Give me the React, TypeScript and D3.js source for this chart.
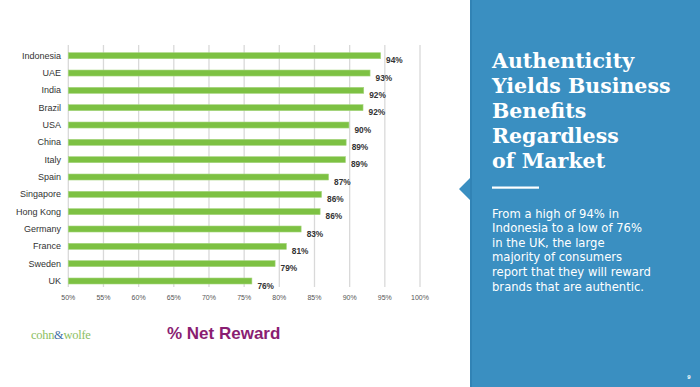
import React from "react";
import * as d3 from "d3";

const categories = ["Indonesia", "UAE", "India", "Brazil", "USA", "China", "Italy", "Spain", "Singapore", "Hong Kong", "Germany", "France", "Sweden", "UK"];
const values = [94.4, 92.9, 92.0, 91.9, 89.9, 89.5, 89.4, 87.0, 86.0, 85.8, 83.1, 81.0, 79.4, 76.1];
const valueLabels = ["94%", "93%", "92%", "92%", "90%", "89%", "89%", "87%", "86%", "86%", "83%", "81%", "79%", "76%"];
const ticks = [50, 55, 60, 65, 70, 75, 80, 85, 90, 95, 100];
const titleLines = ["Authenticity", "Yields Business", "Benefits", "Regardless", "of Market"];
const bodyLines = ["From a high of 94% in", "Indonesia to a low of 76%", "in the UK, the large", "majority of consumers", "report that they will reward", "brands that are authentic."];

export default function App() {
  const W = 700, H = 387;
  const x = d3.scaleLinear().domain([50, 100]).range([68.3, 420]);
  const y = d3.scalePoint<string>().domain(categories).range([55.7, 281]);
  const barH = 6;
  const sans = "'Liberation Sans', Arial, sans-serif";
  const panelX = 470;
  const notch = d3.path();
  notch.moveTo(panelX, 0);
  notch.lineTo(W, 0);
  notch.lineTo(W, H);
  notch.lineTo(panelX, H);
  notch.lineTo(panelX, 200);
  notch.lineTo(459, 189);
  notch.lineTo(panelX, 178);
  notch.closePath();

  return (
    <svg width={W} height={H} style={{ position: "absolute", left: 0, top: 0, background: "#fff" }}>
      <rect x={0} y={0} width={W} height={H} fill="#fff" />
      {ticks.map((t) => (
        <g key={t}>
          <line x1={x(t)} x2={x(t)} y1={45} y2={287} stroke="#d9d9d9" strokeWidth={1.3} />
          <text x={x(t)} y={299.5} fontFamily={sans} fontSize={7} fill="#555" textAnchor="middle">{t}%</text>
        </g>
      ))}
      {categories.map((c, i) => (
        <g key={c}>
          <text x={61} y={(y(c) as number) + 3} fontFamily={sans} fontSize={9} fill="#333" textAnchor="end">{c}</text>
          <rect x={x(50)} y={(y(c) as number) - barH / 2} width={x(values[i]) - x(50)} height={barH} fill="#7dc143" stroke="#a6d57e" strokeWidth={0.6} />
          <text x={x(values[i]) + 5.5} y={(y(c) as number) + 7.5} fontFamily={sans} fontSize={8.3} fontWeight="bold" fill="#333">{valueLabels[i]}</text>
        </g>
      ))}
      <text x={31} y={338.5} fontFamily="'Liberation Serif', 'Times New Roman', serif" fontSize={12.5} letterSpacing={-0.3} fill="#8cc063">
        cohn<tspan fill="#3f6ea6">&amp;</tspan>wolfe
      </text>
      <text x={167} y={339} fontFamily={sans} fontSize={17} fontWeight="bold" fill="#8a1e72">% Net Reward</text>

      <path d={notch.toString()} fill="#3a8fc1" />
      <line x1={471} x2={471} y1={0} y2={H} stroke="#2f7fb0" strokeWidth={1.5} />
      {titleLines.map((l, i) => (
        <text key={l} x={492} y={68 + i * 25} fontFamily="'DejaVu Serif', Georgia, serif" fontSize={20.5} fontWeight="bold" fill="#fff">{l}</text>
      ))}
      <rect x={492} y={186.5} width={47} height={2.2} fill="#fff" />
      {bodyLines.map((l, i) => (
        <text key={l} x={492} y={217.5 + i * 14.6} fontFamily="'DejaVu Sans', sans-serif" fontSize={11.6} fill="#fff">{l}</text>
      ))}
      <text x={689} y={379} fontFamily={sans} fontSize={6} fontWeight="bold" fill="#fff" textAnchor="middle">9</text>
    </svg>
  );
}
